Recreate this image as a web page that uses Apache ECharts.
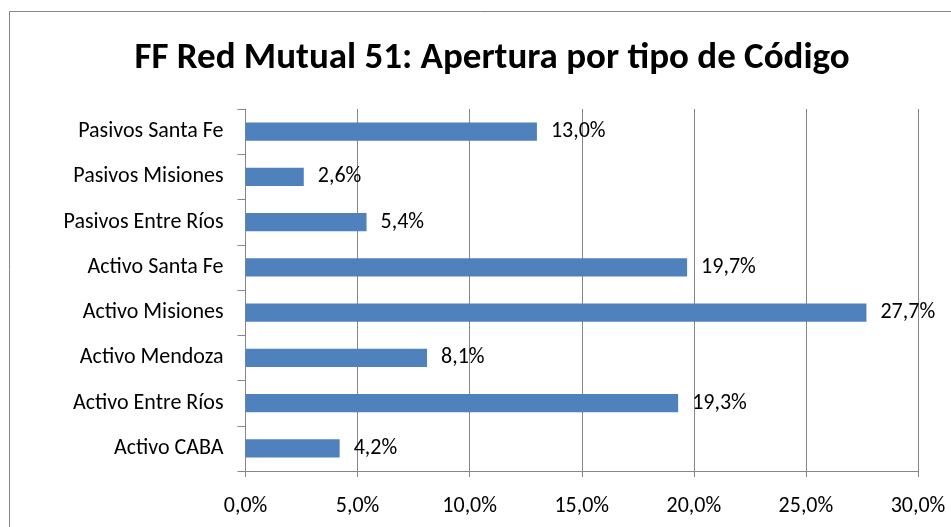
<!DOCTYPE html>
<html>
<head>
<meta charset="utf-8">
<script src="https://cdn.jsdelivr.net/npm/echarts@6/dist/echarts.min.js"></script>
<style>
  html, body { margin: 0; padding: 0; background: #fff; }
  #chart { width: 951px; height: 527px; }
</style>
</head>
<body>
<div id="chart"></div>
<script>
var categories = [
  "Activo CABA",
  "Activo Entre Ríos",
  "Activo Mendoza",
  "Activo Misiones",
  "Activo Santa Fe",
  "Pasivos Entre Ríos",
  "Pasivos Misiones",
  "Pasivos Santa Fe",
];
var values = [4.2, 19.3, 8.1, 27.7, 19.7, 5.4, 2.6, 13.0];
var xTicks = [0, 5, 10, 15, 20, 25, 30];

var font = "Carlito, 'Liberation Sans', sans-serif";

function pct(v) {
  return v.toFixed(1).replace(".", ",") + "%";
}

var chart = echarts.init(document.getElementById("chart"));

var option = {
  animation: false,
  backgroundColor: "#fff",
  title: {
    text: "FF Red Mutual 51: Apertura por tipo de Código",
    left: 487,
    textAlign: "center",
    top: 35,
    textStyle: {
      fontFamily: font,
      fontSize: 37,
      fontWeight: "bold",
      color: "#000",
    },
  },
  graphic: [
    {
      type: "rect",
      shape: { x: 9.5, y: 11.5, width: 960, height: 540 },
      style: { fill: "none", stroke: "#868686", lineWidth: 1 },
      silent: true,
    },
  ],
  grid: { left: 245.5, right: 33, top: 109, bottom: 56 },
  xAxis: {
    type: "value",
    min: xTicks[0],
    max: xTicks[xTicks.length - 1],
    interval: 5,
    axisLine: { show: true, lineStyle: { color: "#868686" } },
    axisTick: { show: true, length: 6, lineStyle: { color: "#868686" } },
    splitLine: { show: true, lineStyle: { color: "#868686" } },
    axisLabel: {
      formatter: function (v) { return pct(v); },
      fontFamily: font,
      fontSize: 22,
      color: "#000",
      margin: 24,
    },
  },
  yAxis: {
    type: "category",
    data: categories,
    axisLine: { show: true, lineStyle: { color: "#868686" } },
    axisTick: { show: true, length: 8, lineStyle: { color: "#868686" } },
    axisLabel: {
      fontFamily: font,
      fontSize: 22,
      color: "#000",
      margin: 22,
    },
  },
  series: [
    {
      type: "bar",
      data: values,
      barWidth: "40%",
      itemStyle: { color: "#4F81BD" },
      label: {
        show: true,
        position: "right",
        distance: 14,
        formatter: function (p) { return pct(p.value); },
        fontFamily: font,
        fontSize: 22,
        color: "#000",
      },
    },
  ],
};

chart.setOption(option);
</script>
</body>
</html>
